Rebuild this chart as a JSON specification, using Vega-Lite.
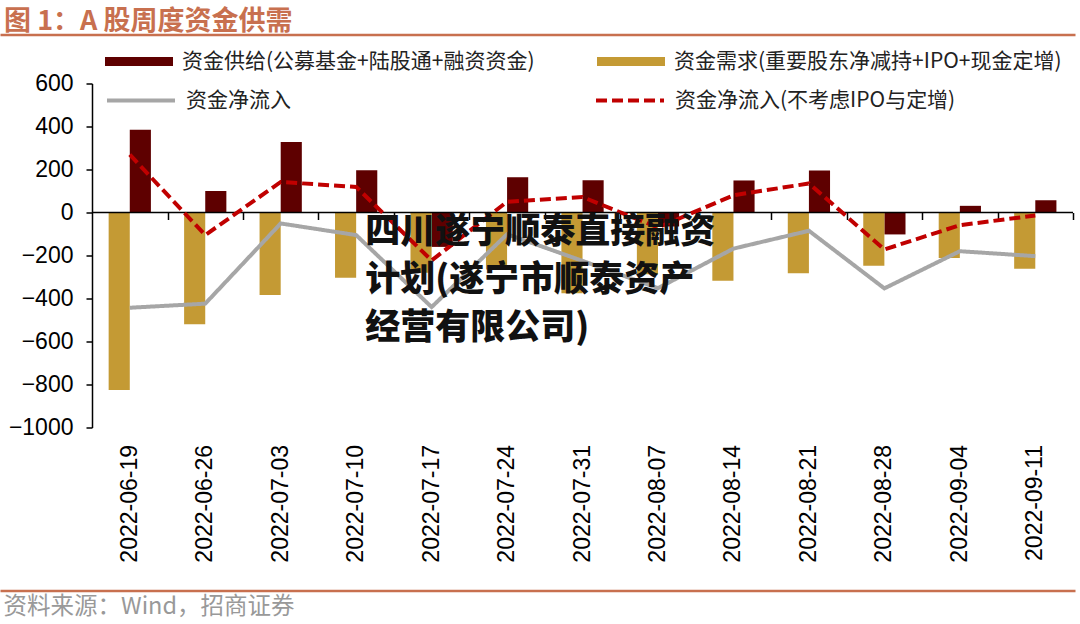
{
  "$schema": "https://vega.github.io/schema/vega-lite/v6.json",
  "autosize": {"type": "none"},
  "width": 1075,
  "height": 344,
  "padding": {"top": 83.5, "left": 0, "right": 5, "bottom": 196.5},
  "background": "white",
  "config": {"font": "Liberation Sans", "view": {"stroke": null}},
  "title": {"text": "图 1：A 股周度资金供需", "anchor": "start", "frame": "group", "orient": "top", "font": "Noto Sans CJK SC", "fontSize": 27, "fontWeight": "bold", "color": "#C8704F", "dx": 4, "offset": -8},
  "datasets": {
    "flows": [
      {"date": "2022-06-19", "series": "资金供给(公募基金+陆股通+融资资金)", "value": 385},
      {"date": "2022-06-26", "series": "资金供给(公募基金+陆股通+融资资金)", "value": 100},
      {"date": "2022-07-03", "series": "资金供给(公募基金+陆股通+融资资金)", "value": 328},
      {"date": "2022-07-10", "series": "资金供给(公募基金+陆股通+融资资金)", "value": 196},
      {"date": "2022-07-17", "series": "资金供给(公募基金+陆股通+融资资金)", "value": -160},
      {"date": "2022-07-24", "series": "资金供给(公募基金+陆股通+融资资金)", "value": 164},
      {"date": "2022-07-31", "series": "资金供给(公募基金+陆股通+融资资金)", "value": 150},
      {"date": "2022-08-07", "series": "资金供给(公募基金+陆股通+融资资金)", "value": -65},
      {"date": "2022-08-14", "series": "资金供给(公募基金+陆股通+融资资金)", "value": 149},
      {"date": "2022-08-21", "series": "资金供给(公募基金+陆股通+融资资金)", "value": 195},
      {"date": "2022-08-28", "series": "资金供给(公募基金+陆股通+融资资金)", "value": -102},
      {"date": "2022-09-04", "series": "资金供给(公募基金+陆股通+融资资金)", "value": 31},
      {"date": "2022-09-11", "series": "资金供给(公募基金+陆股通+融资资金)", "value": 57},
      {"date": "2022-06-19", "series": "资金需求(重要股东净减持+IPO+现金定增)", "value": -825},
      {"date": "2022-06-26", "series": "资金需求(重要股东净减持+IPO+现金定增)", "value": -520},
      {"date": "2022-07-03", "series": "资金需求(重要股东净减持+IPO+现金定增)", "value": -384},
      {"date": "2022-07-10", "series": "资金需求(重要股东净减持+IPO+现金定增)", "value": -304},
      {"date": "2022-07-17", "series": "资金需求(重要股东净减持+IPO+现金定增)", "value": -280},
      {"date": "2022-07-24", "series": "资金需求(重要股东净减持+IPO+现金定增)", "value": -265},
      {"date": "2022-07-31", "series": "资金需求(重要股东净减持+IPO+现金定增)", "value": -375},
      {"date": "2022-08-07", "series": "资金需求(重要股东净减持+IPO+现金定增)", "value": -287},
      {"date": "2022-08-14", "series": "资金需求(重要股东净减持+IPO+现金定增)", "value": -318},
      {"date": "2022-08-21", "series": "资金需求(重要股东净减持+IPO+现金定增)", "value": -283},
      {"date": "2022-08-28", "series": "资金需求(重要股东净减持+IPO+现金定增)", "value": -248},
      {"date": "2022-09-04", "series": "资金需求(重要股东净减持+IPO+现金定增)", "value": -212},
      {"date": "2022-09-11", "series": "资金需求(重要股东净减持+IPO+现金定增)", "value": -262},
      {"date": "2022-06-19", "series": "资金净流入", "value": -443},
      {"date": "2022-06-26", "series": "资金净流入", "value": -424},
      {"date": "2022-07-03", "series": "资金净流入", "value": -51},
      {"date": "2022-07-10", "series": "资金净流入", "value": -105},
      {"date": "2022-07-17", "series": "资金净流入", "value": -440},
      {"date": "2022-07-24", "series": "资金净流入", "value": -101},
      {"date": "2022-07-31", "series": "资金净流入", "value": -225},
      {"date": "2022-08-07", "series": "资金净流入", "value": -352},
      {"date": "2022-08-14", "series": "资金净流入", "value": -168},
      {"date": "2022-08-21", "series": "资金净流入", "value": -85},
      {"date": "2022-08-28", "series": "资金净流入", "value": -353},
      {"date": "2022-09-04", "series": "资金净流入", "value": -180},
      {"date": "2022-09-11", "series": "资金净流入", "value": -203},
      {"date": "2022-06-19", "series": "资金净流入(不考虑IPO与定增)", "value": 269},
      {"date": "2022-06-26", "series": "资金净流入(不考虑IPO与定增)", "value": -105},
      {"date": "2022-07-03", "series": "资金净流入(不考虑IPO与定增)", "value": 142},
      {"date": "2022-07-10", "series": "资金净流入(不考虑IPO与定增)", "value": 119},
      {"date": "2022-07-17", "series": "资金净流入(不考虑IPO与定增)", "value": -223},
      {"date": "2022-07-24", "series": "资金净流入(不考虑IPO与定增)", "value": 50},
      {"date": "2022-07-31", "series": "资金净流入(不考虑IPO与定增)", "value": 72},
      {"date": "2022-08-07", "series": "资金净流入(不考虑IPO与定增)", "value": -70},
      {"date": "2022-08-14", "series": "资金净流入(不考虑IPO与定增)", "value": 80},
      {"date": "2022-08-21", "series": "资金净流入(不考虑IPO与定增)", "value": 135},
      {"date": "2022-08-28", "series": "资金净流入(不考虑IPO与定增)", "value": -172},
      {"date": "2022-09-04", "series": "资金净流入(不考虑IPO与定增)", "value": -59},
      {"date": "2022-09-11", "series": "资金净流入(不考虑IPO与定增)", "value": -14}
    ]
  },
  "data": {"name": "flows"},
  "layer": [
    {
      "transform": [{"filter": {"field": "series", "oneOf": ["资金供给(公募基金+陆股通+融资资金)", "资金需求(重要股东净减持+IPO+现金定增)"]}}],
      "mark": {"type": "bar"},
      "encoding": {
        "x": {
          "field": "date", "type": "nominal",
          "scale": {"paddingInner": 0.44, "paddingOuter": 0.843, "align": 0.854},
          "axis": {"orient": "bottom", "offset": -215, "domain": false, "labels": false, "ticks": true, "tickSize": 7, "tickColor": "#000", "tickWidth": 1.5, "bandPosition": 1, "tickOffset": 16.6, "title": null, "grid": false}
        },
        "xOffset": {"field": "series", "type": "nominal", "scale": {"domain": ["资金需求(重要股东净减持+IPO+现金定增)", "资金供给(公募基金+陆股通+融资资金)"]}},
        "y": {
          "field": "value", "type": "quantitative",
          "scale": {"domain": [-1000, 600], "nice": false, "zero": false},
          "axis": {"orient": "left", "offset": -92, "values": [-1000, -800, -600, -400, -200, 0, 200, 400, 600], "format": "d", "grid": false, "domainColor": "#000", "domainWidth": 1.5, "tickColor": "#000", "tickSize": 6, "tickWidth": 1.5, "labelFont": "Liberation Sans", "labelFontSize": 23, "labelColor": "#000", "labelPadding": 13, "title": null}
        },
        "fill": {
          "field": "series", "type": "nominal",
          "scale": {"domain": ["资金供给(公募基金+陆股通+融资资金)", "资金需求(重要股东净减持+IPO+现金定增)"], "range": ["#5E0000", "#C49A34"]},
          "legend": {"title": null, "orient": "none", "legendX": 105, "legendY": -56, "direction": "horizontal", "symbolType": "M-1,-0.13H1V0.13H-1Z", "symbolSize": 4624, "symbolStrokeWidth": 0, "labelFont": "Noto Sans CJK SC", "labelFontSize": 21, "labelColor": "#222", "labelOffset": 9, "columnPadding": 62, "padding": 0, "labelLimit": 0}
        }
      }
    },
    {
      "data": {"values": [{}]},
      "mark": {"type": "rule", "color": "#000", "strokeWidth": 1.5, "xOffset": -37.73, "x2Offset": 37.73},
      "encoding": {
        "x": {"datum": "2022-06-19", "type": "nominal", "axis": null},
        "x2": {"datum": "2022-09-11"},
        "y": {
          "datum": 0, "type": "quantitative",
          "scale": {"domain": [-1759, 827], "range": [507.2, -48.8], "nice": false, "zero": false},
          "axis": {"orient": "left", "values": [827, -1759], "grid": true, "gridColor": "#C8704F", "gridWidth": 2.5, "labels": false, "ticks": false, "domain": false, "title": null}
        }
      }
    },
    {
      "transform": [{"filter": {"field": "series", "oneOf": ["资金净流入", "资金净流入(不考虑IPO与定增)"]}}],
      "mark": {"type": "line", "strokeWidth": 4, "strokeCap": "butt"},
      "encoding": {
        "x": {
          "field": "date", "type": "nominal",
          "axis": {"orient": "bottom", "domain": false, "ticks": false, "labelAngle": -90, "labelFont": "Liberation Sans", "labelFontSize": 23, "labelColor": "#000", "labelPadding": 17, "grid": false,
            "title": "资料来源：Wind，招商证券", "titleAnchor": "start", "titleAlign": "left", "titleX": 3, "titleY": 186, "titleBaseline": "alphabetic", "titleFont": "Noto Sans CJK SC", "titleFontSize": 23.5, "titleFontWeight": "normal", "titleColor": "#999999"}
        },
        "y": {
          "field": "value", "type": "quantitative",
          "scale": {"domain": [-1000, 600], "nice": false, "zero": false},
          "axis": null
        },
        "stroke": {
          "field": "series", "type": "nominal",
          "scale": {"domain": ["资金净流入", "资金净流入(不考虑IPO与定增)"], "range": ["#A6A6A6", "#C00000"]},
          "legend": {"title": null, "orient": "none", "legendX": 105, "legendY": -19, "direction": "horizontal", "symbolType": "stroke", "symbolSize": 4624, "symbolStrokeWidth": 4, "labelFont": "Noto Sans CJK SC", "labelFontSize": 21, "labelColor": "#222", "labelOffset": 9, "columnPadding": 297, "padding": 0, "labelLimit": 0}
        },
        "strokeDash": {
          "field": "series", "type": "nominal",
          "scale": {"domain": ["资金净流入", "资金净流入(不考虑IPO与定增)"], "range": [[1, 0], [11, 5]]},
          "legend": {"title": null, "orient": "none", "legendX": 105, "legendY": -19, "direction": "horizontal", "symbolType": "stroke", "symbolSize": 4624, "symbolStrokeWidth": 4, "labelFont": "Noto Sans CJK SC", "labelFontSize": 21, "labelColor": "#222", "labelOffset": 9, "columnPadding": 297, "padding": 0, "labelLimit": 0}
        }
      }
    },
    {
      "data": {"values": [{}]},
      "mark": {"type": "text", "align": "left", "baseline": "top", "font": "Noto Sans CJK SC", "fontSize": 35, "fontWeight": 900, "color": "#111", "lineHeight": 48, "dx": 9},
      "encoding": {
        "x": {"datum": "2022-07-10", "type": "nominal", "axis": null},
        "y": {"datum": -10, "type": "quantitative", "scale": {"domain": [-1000, 600], "nice": false, "zero": false}, "axis": null},
        "text": {"value": ["四川遂宁顺泰直接融资", "计划(遂宁市顺泰资产", "经营有限公司)"]}
      }
    }
  ],
  "resolve": {"scale": {"y": "independent"}, "axis": {"x": "independent", "y": "independent"}}
}
